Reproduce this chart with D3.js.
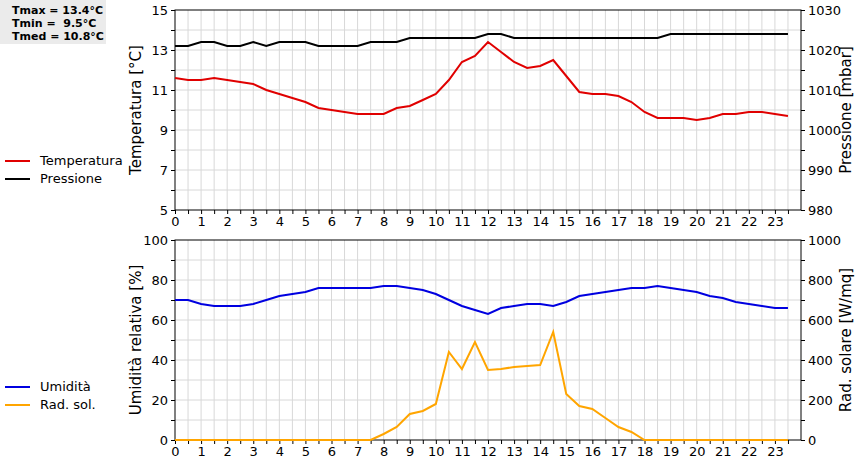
<!DOCTYPE html>
<html>
<head>
<meta charset="utf-8">
<script src="https://cdn.jsdelivr.net/npm/d3@7"></script>
<style>
  body { margin: 0; background: #fff; }
  text { font-family: "DejaVu Sans", sans-serif; }
</style>
</head>
<body>
<svg id="chart" width="860" height="460"></svg>
<script>
// half-hourly readings, 0.0 .. 23.5
const hours = d3.range(48).map(i => i / 2);
const temperatura = [11.6,11.5,11.5,11.6,11.5,11.4,11.3,11.0,10.8,10.6,10.4,10.1,10.0,9.9,9.8,9.8,
  9.8,10.1,10.2,10.5,10.8,11.5,12.4,12.7,13.4,12.9,12.4,12.1,12.2,12.5,11.7,10.9,
  10.8,10.8,10.7,10.4,9.9,9.6,9.6,9.6,9.5,9.6,9.8,9.8,9.9,9.9,9.8,9.7];
const pressione = [1021,1021,1022,1022,1021,1021,1022,1021,1022,1022,1022,1021,1021,1021,1021,1022,
  1022,1022,1023,1023,1023,1023,1023,1023,1024,1024,1023,1023,1023,1023,1023,1023,
  1023,1023,1023,1023,1023,1023,1024,1024,1024,1024,1024,1024,1024,1024,1024,1024];
const umidita = [70,70,68,67,67,67,68,70,72,73,74,76,76,76,76,76,
  77,77,76,75,73,70,67,65,63,66,67,68,68,67,69,72,
  73,74,75,76,76,77,76,75,74,72,71,69,68,67,66,66];
const radSol = [0,0,0,0,0,0,0,0,0,0,0,0,0,0,0,0,
  30,65,130,145,180,440,355,490,350,355,365,370,375,540,230,170,
  155,110,65,40,0,0,0,0,0,0,0,0,0,0,0,0];
const statLines = ["Tmax = 13.4°C", "Tmin =  9.5°C", "Tmed = 10.8°C"];
const hourTicks = d3.range(24);

const svg = d3.select('#chart');
const x0 = 175, x1 = 801;
const x = d3.scaleLinear().domain([0, 24]).range([x0, x1]);

function panel(top, bottom, yL, yR, leftTicks, rightTicks, gridStep, leftLabel, rightLabel) {
    const g = svg.append('g');
    // grid
    g.selectAll('.vg').data(d3.range(0.5, 24, 0.5)).join('line')
        .attr('x1', d => x(d)).attr('x2', d => x(d))
        .attr('y1', top).attr('y2', bottom).attr('stroke', '#d8d8d8');
    g.selectAll('.hg').data(d3.range(yL.domain()[0] + gridStep, yL.domain()[1], gridStep)).join('line')
        .attr('x1', x0).attr('x2', x1)
        .attr('y1', d => yL(d)).attr('y2', d => yL(d)).attr('stroke', '#d8d8d8');
    g.append('rect').attr('x', x0).attr('y', top).attr('width', x1 - x0).attr('height', bottom - top)
        .attr('fill', 'none').attr('stroke', '#000');

    const minorL = d3.range(yL.domain()[0], yL.domain()[1] + 1e-9, gridStep);
    g.append('g').attr('transform', `translate(${x0},0)`)
        .call(d3.axisLeft(yL).tickValues(minorL).tickSize(4)
            .tickFormat(d => leftTicks.includes(d) ? d : ''))
        .call(a => a.select('.domain').remove());
    g.append('g').attr('transform', `translate(${x1},0)`)
        .call(d3.axisRight(yR).tickValues(d3.range(yR.domain()[0], yR.domain()[1] + 1e-9, (yR.domain()[1] - yR.domain()[0]) / 10))
            .tickSize(4).tickFormat(d => rightTicks.includes(d) ? d : ''))
        .call(a => a.select('.domain').remove());
    g.append('g').attr('transform', `translate(0,${bottom})`)
        .call(d3.axisBottom(x).tickValues(d3.range(0, 24, 0.5)).tickSize(4)
            .tickFormat(d => Number.isInteger(d) ? d : ''))
        .call(a => a.select('.domain').remove());
    g.selectAll('.tick text').attr('font-size', 13).attr('fill', '#000');
    g.selectAll('.tick line').attr('stroke', '#000');

    const mid = (top + bottom) / 2;
    g.append('text').attr('transform', `translate(141,${mid}) rotate(-90)`)
        .attr('text-anchor', 'middle').attr('font-size', 15).text(leftLabel);
    g.append('text').attr('transform', `translate(851,${mid}) rotate(-90)`)
        .attr('text-anchor', 'middle').attr('font-size', 15).text(rightLabel);
}

function series(values, y, color) {
    svg.append('path').datum(values)
        .attr('fill', 'none').attr('stroke', color).attr('stroke-width', 2)
        .attr('d', d3.line().x((d, i) => x(hours[i])).y(d => y(d)));
}

// top panel
const yT = d3.scaleLinear().domain([5, 15]).range([210, 10]);
const yP = d3.scaleLinear().domain([980, 1030]).range([210, 10]);
panel(10, 210, yT, yP, [5, 7, 9, 11, 13, 15], [980, 990, 1000, 1010, 1020, 1030], 1,
    'Temperatura [°C]', 'Pressione [mbar]');
series(pressione, yP, '#000');
series(temperatura, yT, '#e00000');

// bottom panel
const yU = d3.scaleLinear().domain([0, 100]).range([440, 240]);
const yR = d3.scaleLinear().domain([0, 1000]).range([440, 240]);
panel(240, 440, yU, yR, [0, 20, 40, 60, 80, 100], [0, 200, 400, 600, 800, 1000], 10,
    'Umidità relativa [%]', 'Rad. solare [W/mq]');
series(umidita, yU, '#0000e0');
series(radSol, yR, '#ffa500');

// legends
function legend(items, y0) {
    items.forEach((it, i) => {
        const y = y0 + i * 18;
        svg.append('line').attr('x1', 5).attr('x2', 30).attr('y1', y).attr('y2', y)
            .attr('stroke', it[1]).attr('stroke-width', 2);
        svg.append('text').attr('x', 40).attr('y', y + 4).attr('font-size', 13).text(it[0]);
    });
}
legend([['Temperatura', '#e00000'], ['Pressione', '#000']], 161);
legend([['Umidità', '#0000e0'], ['Rad. sol.', '#ffa500']], 387);

// stats box
svg.append('rect').attr('x', 0).attr('y', 0).attr('width', 106).attr('height', 44).attr('fill', '#ebebeb');
svg.selectAll('.stat').data(statLines).join('text')
    .attr('x', 12).attr('y', (d, i) => 14 + i * 13)
    .attr('font-family', '"DejaVu Sans Mono", monospace').attr('font-weight', 'bold')
    .attr('font-size', 11).attr('xml:space', 'preserve').style('white-space', 'pre').text(d => d);
</script>
</body>
</html>
